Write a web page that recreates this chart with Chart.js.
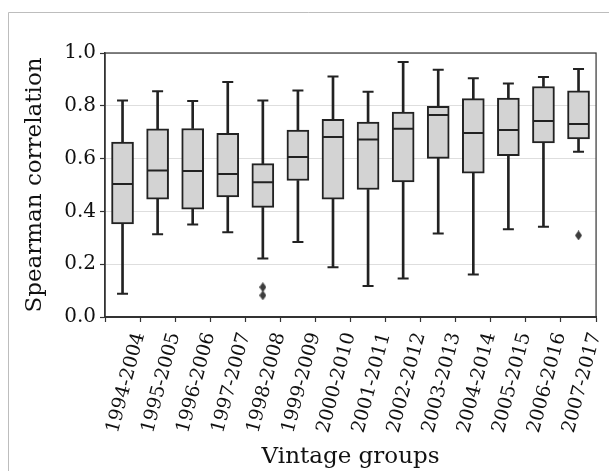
<!DOCTYPE html>
<html><head><meta charset="utf-8">
<script src="https://cdn.jsdelivr.net/npm/chart.js@4/dist/chart.umd.min.js"></script>
<style>html,body{margin:0;padding:0;background:#fff}#wrap{width:609px;height:471px}</style>
</head><body><div id="wrap"><canvas id="c" width="609" height="471"></canvas></div>
<script>
const categories = ['1994-2004','1995-2005','1996-2006','1997-2007','1998-2008','1999-2009','2000-2010','2001-2011','2002-2012','2003-2013','2004-2014','2005-2015','2006-2016','2007-2017'];
const whiskerLow  = [0.088,0.313,0.350,0.321,0.222,0.284,0.188,0.117,0.146,0.316,0.161,0.332,0.342,0.626];
const q1          = [0.353,0.446,0.408,0.455,0.415,0.517,0.446,0.483,0.512,0.601,0.545,0.611,0.659,0.675];
const median      = [0.504,0.555,0.553,0.542,0.510,0.606,0.682,0.672,0.713,0.765,0.697,0.708,0.742,0.731];
const q3          = [0.663,0.713,0.714,0.696,0.581,0.708,0.749,0.738,0.776,0.798,0.827,0.829,0.873,0.857];
const whiskerHigh = [0.820,0.855,0.818,0.890,0.820,0.858,0.911,0.853,0.966,0.937,0.904,0.884,0.909,0.939];
const outlierGroups = ['1998-2008','1998-2008','2007-2017'];
const outlierValues = [0.113,0.082,0.309];
const yTicks = [0.0,0.2,0.4,0.6,0.8,1.0];

const EDGE = '#222222';
const FONT = 'DejaVu Serif';

// thin diamond marker
const diamond = document.createElement('canvas');
diamond.width = 7; diamond.height = 10;
(function(){const g=diamond.getContext('2d');g.fillStyle='#3d3d3d';g.beginPath();g.moveTo(3.5,0);g.lineTo(7,5);g.lineTo(3.5,10);g.lineTo(0,5);g.closePath();g.fill();})();

const framePlugin = {
  id: 'frame',
  beforeDraw(chart){
    const ctx = chart.ctx;
    ctx.save();
    ctx.fillStyle = '#fff';
    ctx.fillRect(0,0,chart.width,chart.height);
    ctx.strokeStyle = '#bdbdbd';
    ctx.lineWidth = 1;
    ctx.beginPath();
    ctx.moveTo(8.5, chart.height);
    ctx.lineTo(8.5, 12.5);
    ctx.lineTo(chart.width, 12.5);
    ctx.stroke();
    ctx.restore();
  },
  afterDraw(chart){
    const a = chart.chartArea, ctx = chart.ctx;
    ctx.save();
    ctx.strokeStyle = '#333';
    ctx.lineWidth = 1.2;
    ctx.strokeRect(a.left, a.top, a.right - a.left, a.bottom - a.top);
    ctx.restore();
  }
};

new Chart(document.getElementById('c'), {
  type: 'bar',
  data: {
    labels: categories,
    datasets: [
      { type:'line', label:'outliers', order:0,
        data: outlierGroups.map((g,i)=>({x:g, y:outlierValues[i]})),
        showLine:false, pointStyle: diamond, pointRadius:5, pointHoverRadius:5 },
      { type:'line', label:'median', order:1, data: median, showLine:false,
        pointStyle:'line', pointRadius:10.5, pointHoverRadius:10.5, borderColor:EDGE, pointBorderWidth:2, borderWidth:2 },
      { type:'line', label:'capHigh', order:2, data: whiskerHigh, showLine:false,
        pointStyle:'line', pointRadius:5.5, pointHoverRadius:5.5, borderColor:EDGE, pointBorderWidth:2, borderWidth:2 },
      { type:'line', label:'capLow', order:2, data: whiskerLow, showLine:false,
        pointStyle:'line', pointRadius:5.5, pointHoverRadius:5.5, borderColor:EDGE, pointBorderWidth:2, borderWidth:2 },
      { label:'box', order:3, grouped:false, data: categories.map((c,i)=>[q1[i], q3[i]]),
        backgroundColor:'#d3d3d3', borderColor:EDGE, borderWidth:2, borderSkipped:false, barThickness:22 },
      { label:'whiskerHigh', order:4, grouped:false, data: categories.map((c,i)=>[q3[i], whiskerHigh[i]]),
        backgroundColor:EDGE, borderWidth:0, barThickness:2 },
      { label:'whiskerLow', order:4, grouped:false, data: categories.map((c,i)=>[whiskerLow[i], q1[i]]),
        backgroundColor:EDGE, borderWidth:0, barThickness:2 }
    ]
  },
  options: {
    responsive:false,
    animation:false,
    events:[],
    layout:{ padding:{ top:53, right:2, left:0, bottom:0 } },
    plugins:{ legend:{display:false}, tooltip:{enabled:false} },
    scales:{
      x:{
        type:'category', offset:true,
        afterFit(s){ s.height = 154; },
        grid:{ drawOnChartArea:false, tickColor:'#333', tickLength:5, tickWidth:1.2 },
        border:{ display:true, color:'#333', width:2 },
        ticks:{ autoSkip:false, minRotation:75, maxRotation:75, labelOffset:17, padding:8,
                color:'#111', font:{ family:FONT, size:19 } },
        title:{ display:true, text:'Vintage groups', color:'#111', font:{ family:FONT, size:23 }, padding:{top:0,bottom:0} }
      },
      y:{
        min:0, max:1,
        afterFit(s){ s.width = 105; },
        afterBuildTicks(s){ s.ticks = yTicks.map(v=>({value:v})); },
        grid:{ color:'#dedede', lineWidth:1, tickColor:'#333', tickLength:5, tickWidth:1.2 },
        border:{ display:true, color:'#333', width:1.5 },
        ticks:{ padding:4, color:'#111', font:{ family:FONT, size:20 }, callback:(v)=>Number(v).toFixed(1) },
        title:{ display:true, text:'Spearman correlation', color:'#111', font:{ family:FONT, size:23 }, padding:{top:21,bottom:0} }
      }
    }
  },
  plugins:[framePlugin]
});
</script>
</body></html>
